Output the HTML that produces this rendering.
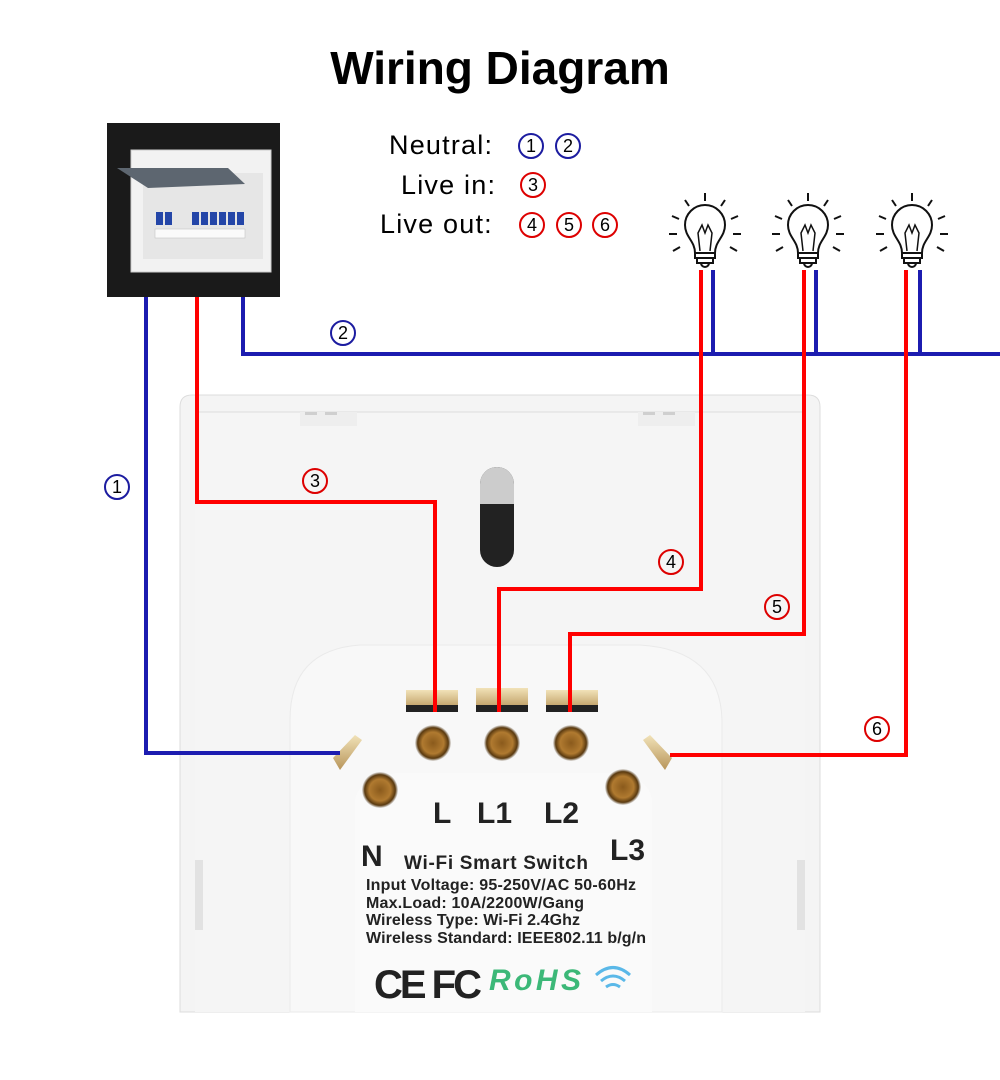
<!DOCTYPE html>
<html><head><meta charset="utf-8"><style>
html,body{margin:0;padding:0;background:#fff;}
svg{display:block;font-family:"Liberation Sans",Arial,sans-serif;}
</style></head><body>
<svg width="1000" height="1080" viewBox="0 0 1000 1080" xmlns="http://www.w3.org/2000/svg">
<defs>
<radialGradient id="scr" cx="50%" cy="50%" r="50%">
<stop offset="0" stop-color="#8a5a1c"/><stop offset="0.6" stop-color="#b07a30"/><stop offset="0.85" stop-color="#5a3a10"/><stop offset="1" stop-color="#e8e8e8"/>
</radialGradient>
<linearGradient id="gold" x1="0" y1="0" x2="0" y2="1">
<stop offset="0" stop-color="#f1e2b8"/><stop offset="1" stop-color="#b8955a"/>
</linearGradient>
</defs>
<text x="500" y="84" text-anchor="middle" font-size="46" font-weight="bold" fill="#000">Wiring Diagram</text>

<!-- breaker box -->
<rect x="107" y="123" width="173" height="174" fill="#1a1a1a"/>
<rect x="131" y="150" width="140" height="122" fill="#f2f2f2" stroke="#ccc"/>
<rect x="143" y="173" width="120" height="86" fill="#e6e6e6"/>
<polygon points="117,168 228,168 245,184 148,188" fill="#5d6670"/>
<g fill="#2446a8">
<rect x="156" y="212" width="7" height="13"/><rect x="165" y="212" width="7" height="13"/>
<rect x="192" y="212" width="7" height="13"/><rect x="201" y="212" width="7" height="13"/><rect x="210" y="212" width="7" height="13"/><rect x="219" y="212" width="7" height="13"/><rect x="228" y="212" width="7" height="13"/><rect x="237" y="212" width="7" height="13"/>
</g>
<rect x="155" y="229" width="90" height="9" fill="#fafafa" stroke="#bbb" stroke-width="0.5"/>

<!-- legend -->
<g font-size="27" fill="#000" letter-spacing="1.2">
<text x="389" y="154">Neutral:</text>
<text x="401" y="194">Live in:</text>
<text x="380" y="233">Live out:</text>
</g>
<g font-size="18" text-anchor="middle" stroke-width="2" fill="none">
<circle cx="531" cy="146" r="12" stroke="#1c1ca0"/><circle cx="568" cy="146" r="12" stroke="#1c1ca0"/>
<circle cx="533" cy="185" r="12" stroke="#d00"/>
<circle cx="532" cy="225" r="12" stroke="#d00"/><circle cx="569" cy="225" r="12" stroke="#d00"/><circle cx="605" cy="225" r="12" stroke="#d00"/>
</g>
<g font-size="18" text-anchor="middle" fill="#000">
<text x="531" y="152">1</text><text x="568" y="152">2</text><text x="533" y="191">3</text>
<text x="532" y="231">4</text><text x="569" y="231">5</text><text x="605" y="231">6</text>
</g>

<!-- bulbs -->
<g stroke="#111" stroke-width="2" fill="none">
<g id="b1" transform="translate(705,231)">
<path d="M-10,22 C-10,10 -20,6 -20,-6 A20,20 0 1 1 20,-6 C20,6 10,10 10,22 Z" fill="#fff"/>
<path d="M-5,20 L-7,2 L-3,-6 L0,2 L3,-6 L7,2 L5,20" stroke-width="1.5"/>
<rect x="-10" y="22" width="20" height="5" fill="#fff"/>
<rect x="-8" y="27" width="16" height="5" fill="#fff"/>
<path d="M-4,32 A4,4 0 0 0 4,32" />
<path d="M0,-30 V-38 M-16,-25 L-20,-31 M16,-25 L20,-31 M-26,-12 L-33,-15 M26,-12 L33,-15 M-28,3 L-36,3 M28,3 L36,3 M-25,16 L-32,20 M25,16 L32,20"/>
</g>
<use href="#b1" x="103" y="0"/>
<use href="#b1" x="207" y="0"/>
</g>

<!-- switch plate -->
<path d="M180,1012 V407 Q180,395 192,395 H808 Q820,395 820,407 V1012 Z" fill="#f4f4f4" stroke="#ddd"/>
<rect x="195" y="412" width="610" height="600" fill="#f5f5f5"/>
<line x1="195" y1="412" x2="805" y2="412" stroke="#ddd"/>
<rect x="300" y="412" width="57" height="14" fill="#eee"/>
<rect x="638" y="412" width="57" height="14" fill="#eee"/>
<g fill="#cfcfcf"><rect x="305" y="412" width="12" height="3"/><rect x="325" y="412" width="12" height="3"/><rect x="643" y="412" width="12" height="3"/><rect x="663" y="412" width="12" height="3"/></g>
<rect x="480" y="467" width="34" height="100" rx="17" fill="#222"/>
<path d="M480,504 V484 A17,17 0 0 1 514,484 V504 Z" fill="#ccc"/>
<rect x="195" y="860" width="8" height="70" fill="#e2e2e2"/>
<rect x="797" y="860" width="8" height="70" fill="#e2e2e2"/>
<!-- module -->
<path d="M290,1012 V720 Q290,650 360,645 H640 Q720,650 722,720 V1012 Z" fill="#f8f8f8" stroke="#eaeaea"/>
<path d="M355,1012 V800 Q360,775 400,773 H610 Q648,775 652,800 V1012 Z" fill="#fafafa"/>
<!-- terminals -->
<g fill="url(#gold)"><rect x="406" y="690" width="52" height="20"/><rect x="476" y="688" width="52" height="22"/><rect x="546" y="690" width="52" height="20"/></g>
<g fill="#222"><rect x="406" y="705" width="52" height="7"/><rect x="476" y="705" width="52" height="7"/><rect x="546" y="705" width="52" height="7"/></g>
<polygon points="333,758 355,735 362,740 340,770" fill="url(#gold)"/>
<polygon points="643,740 650,735 672,758 665,770" fill="url(#gold)"/>
<g fill="url(#scr)">
<circle cx="433" cy="743" r="18"/><circle cx="502" cy="743" r="18"/><circle cx="571" cy="743" r="18"/>
<circle cx="380" cy="790" r="18"/><circle cx="623" cy="787" r="18"/>
</g>
<g font-weight="bold" fill="#222">
<text x="433" y="823" font-size="30">L</text><text x="477" y="823" font-size="30">L1</text><text x="544" y="823" font-size="30">L2</text>
<text x="361" y="866" font-size="30">N</text><text x="610" y="860" font-size="30">L3</text>
<text x="404" y="869" font-size="19" textLength="184">Wi-Fi Smart Switch</text>
</g>
<g font-size="16" fill="#222" font-weight="bold">
<text x="366" y="890" textLength="270">Input Voltage: 95-250V/AC 50-60Hz</text>
<text x="366" y="908" textLength="218">Max.Load: 10A/2200W/Gang</text>
<text x="366" y="925" textLength="214">Wireless Type: Wi-Fi 2.4Ghz</text>
<text x="366" y="943" textLength="280">Wireless Standard: IEEE802.11 b/g/n</text>
</g>
<text x="374" y="998" font-size="40" font-weight="bold" fill="#222" textLength="108">CE FC</text>
<text x="489" y="990" font-size="30" font-weight="bold" font-style="italic" fill="#3cb878" textLength="92">RoHS</text>
<g fill="none" stroke="#5ab8e8" stroke-width="3"><path d="M596,975 Q613,960 630,975"/><path d="M601,981 Q613,971 625,981"/><path d="M606,987 Q613,982 620,987"/></g>

<!-- wires -->
<g fill="none" stroke-width="4" stroke-linejoin="miter">
<polyline points="146,297 146,753 340,753" stroke="#1c1cb0"/>
<polyline points="243,297 243,354 1000,354" stroke="#1c1cb0"/>
<line x1="713" y1="270" x2="713" y2="354" stroke="#1c1cb0"/>
<line x1="816" y1="270" x2="816" y2="354" stroke="#1c1cb0"/>
<line x1="920" y1="270" x2="920" y2="354" stroke="#1c1cb0"/>
<polyline points="197,297 197,502 435,502 435,712" stroke="#f00"/>
<polyline points="701,270 701,589 499,589 499,712" stroke="#f00"/>
<polyline points="804,270 804,634 570,634 570,712" stroke="#f00"/>
<polyline points="906,270 906,755 670,755" stroke="#f00"/>
</g>

<!-- wire labels -->
<g fill="none" stroke-width="2">
<circle cx="117" cy="487" r="12" stroke="#1c1ca0"/><circle cx="343" cy="333" r="12" stroke="#1c1ca0"/>
<circle cx="315" cy="481" r="12" stroke="#d00"/><circle cx="671" cy="562" r="12" stroke="#d00"/>
<circle cx="777" cy="607" r="12" stroke="#d00"/><circle cx="877" cy="729" r="12" stroke="#d00"/>
</g>
<g font-size="18" text-anchor="middle" fill="#000">
<text x="117" y="493">1</text><text x="343" y="339">2</text><text x="315" y="487">3</text>
<text x="671" y="568">4</text><text x="777" y="613">5</text><text x="877" y="735">6</text>
</g>
</svg>
</body></html>
